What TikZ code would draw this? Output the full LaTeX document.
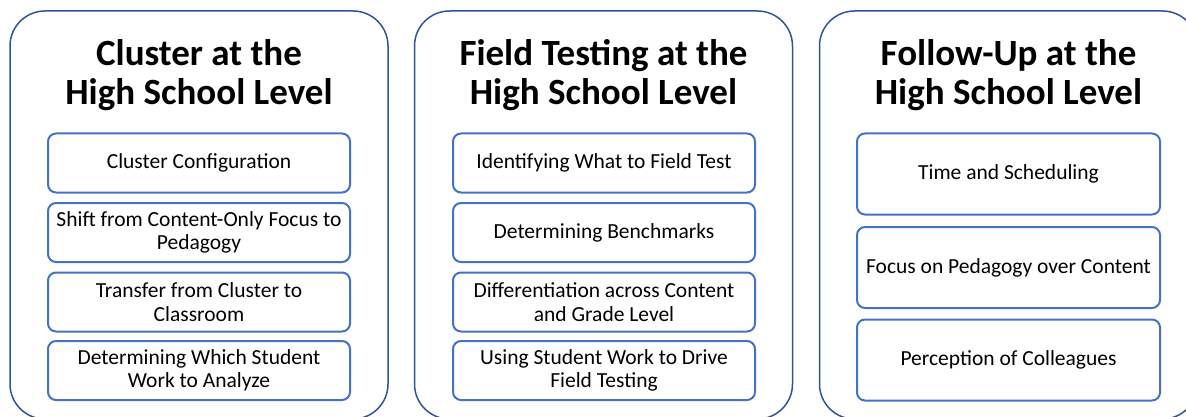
\documentclass[tikz,border=0pt]{standalone}
\usepackage{fontspec}
\setmainfont{Carlito}
\definecolor{panelblue}{HTML}{2F5597}
\definecolor{boxblue}{HTML}{4472C4}
\begin{document}
\begin{tikzpicture}[x=1pt,y=-1pt,
  panel/.style={draw=panelblue, line width=1.5pt, rounded corners=35pt, fill=white, minimum width=378pt, minimum height=408pt, inner sep=0pt},
  title/.style={align=center, font=\fontsize{37}{38.5}\selectfont\bfseries, inner sep=0pt},
  item/.style={draw=boxblue, line width=2pt, rounded corners=8pt, fill=white, minimum width=302pt, minimum height=59pt, align=center, inner sep=0pt, font=\fontsize{21.5}{23.5}\selectfont},
  itemtall/.style={item, minimum height=81pt}]
\clip (0,0) rectangle (1186,417);
\fill[white] (0,0) rectangle (1186,417);
% panels
\node[panel] (p1) at (199,215) {};
\node[panel] (p2) at (603.5,215) {};
\node[panel] (p3) at (1008.5,215) {};
% titles
\node[title, anchor=center] (t1) at (199,75) {Cluster at the\\High School Level};
\node[title, anchor=center] (t2) at (603.5,75) {Field Testing at the\\High School Level};
\node[title, anchor=center] (t3) at (1008.5,75) {Follow-Up at the\\High School Level};
% panel 1 items
\node[item] (a1) at (199,163) {Cluster Configuration};
\node[item] (a2) at (199,232.5) {Shift from Content-Only Focus to\\Pedagogy};
\node[item] (a3) at (199,302) {Transfer from Cluster to\\Classroom};
\node[item] (a4) at (199,370.5) {Determining Which Student\\Work to Analyze};
% panel 2 items
\node[item] (b1) at (604,163) {Identifying What to Field Test};
\node[item] (b2) at (604,232.5) {Determining Benchmarks};
\node[item] (b3) at (604,302) {Differentiation across Content\\and Grade Level};
\node[item] (b4) at (604,370.5) {Using Student Work to Drive\\Field Testing};
% panel 3 items
\node[itemtall, minimum width=303pt] (c1) at (1008.5,174) {Time and Scheduling};
\node[itemtall, minimum width=303pt] (c2) at (1008.5,267.5) {Focus on Pedagogy over Content};
\node[itemtall, minimum width=303pt] (c3) at (1008.5,360) {Perception of Colleagues};
\end{tikzpicture}
\end{document}
